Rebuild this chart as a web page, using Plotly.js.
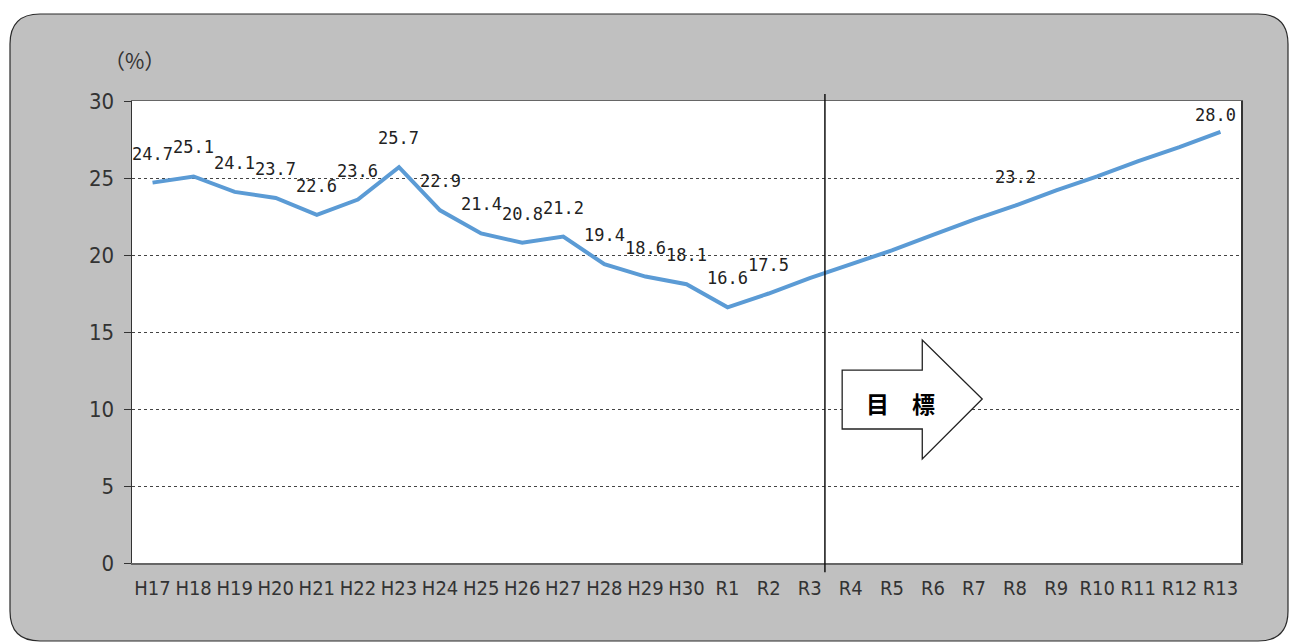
<!DOCTYPE html>
<html>
<head>
<meta charset="utf-8">
<script src="https://cdn.plot.ly/plotly-3.0.1.min.js"></script>
<style>
html,body{margin:0;padding:0;background:#ffffff;}
#chart{width:1289px;height:642px;}
</style>
</head>
<body>
<div id="chart"></div>
<script>
// ---- data ----
const categories = ["H17","H18","H19","H20","H21","H22","H23","H24","H25","H26","H27","H28","H29","H30",
  "R1","R2","R3","R4","R5","R6","R7","R8","R9","R10","R11","R12","R13"];
const values = [24.7,25.1,24.1,23.7,22.6,23.6,25.7,22.9,21.4,20.8,21.2,19.4,18.6,18.1,
  16.6,17.5,18.5,19.4,20.3,21.3,22.3,23.2,24.2,25.1,26.1,27.0,28.0];
const labeledCategories = ["H17","H18","H19","H20","H21","H22","H23","H24","H25","H26","H27","H28","H29","H30","R1","R2","R8","R13"];
const yTicks = [0,5,10,15,20,25,30];
const unitLabel = "（%）";
const targetLabel = "目　標";
const dividerAfter = "R3";

// ---- chart ----
const xFont = {family: "'DejaVu Sans Condensed','Liberation Sans Narrow','Liberation Sans',sans-serif", size: 20, color: "#333333"};
const yFont = {family: "'DejaVu Sans Condensed','Liberation Sans Narrow','Liberation Sans',sans-serif", size: 22, color: "#333333"};
const labelFont = {family: "'DejaVu Sans Mono','Liberation Mono',monospace", size: 17, color: "#222222"};

const trace = {
  type: "scatter",
  mode: "lines",
  x: categories,
  y: values,
  line: {color: "#5b9bd5", width: 4},
  hoverinfo: "x+y"
};

const annotations = [];
labeledCategories.forEach((c) => {
  const i = categories.indexOf(c);
  const last = (i === categories.length - 1);
  annotations.push({
    x: c, y: values[i], xref: "x", yref: "y",
    text: values[i].toFixed(1),
    showarrow: false,
    yshift: last ? 17 : 29,
    xshift: last ? -5 : 0,
    font: labelFont
  });
});
annotations.push({
  xref: "paper", yref: "paper", x: -0.027, y: 1.089, xanchor: "left", yanchor: "middle",
  text: unitLabel, showarrow: false,
  font: {family: "'Noto Sans CJK JP',sans-serif", size: 21, color: "#333333"}
});
const divIdx = categories.indexOf(dividerAfter) + 0.37;
annotations.push({
  xref: "x", yref: "y", x: divIdx + 1.85, y: 10.42,
  text: "<b>" + targetLabel + "</b>", showarrow: false,
  font: {family: "'Noto Sans CJK JP',sans-serif", size: 23, color: "#000000"}
});

// paper-space rounded background
const L = 132, R = 1241, T = 101, B = 563;
const px = v => (v - L) / (R - L);
const py = v => (B - v) / (B - T);
const x0 = px(10), x1 = px(1288), y1 = py(14), y0 = py(641);
const rx = 30 / (R - L), ry = 30 / (B - T);
const bgPath = `M ${x0},${y1 - ry} Q ${x0},${y1} ${x0 + rx},${y1} L ${x1 - rx},${y1} Q ${x1},${y1} ${x1},${y1 - ry} ` +
  `L ${x1},${y0 + ry} Q ${x1},${y0} ${x1 - rx},${y0} L ${x0 + rx},${y0} Q ${x0},${y0} ${x0},${y0 + ry} Z`;

const a0 = divIdx + 0.42, a1 = divIdx + 2.37, a2 = divIdx + 3.83;
const arrowPath = `M ${a0},12.53 L ${a1},12.53 L ${a1},14.48 L ${a2},10.65 L ${a1},6.75 L ${a1},8.70 L ${a0},8.70 Z`;

const shapes = [
  {type: "path", xref: "paper", yref: "paper", path: bgPath, fillcolor: "#c0c0c0",
   line: {color: "#2a2a2a", width: 1.2}, layer: "below"},
  {type: "rect", xref: "paper", yref: "paper", x0: 0, x1: 1, y0: 0, y1: 1, fillcolor: "#ffffff",
   line: {width: 0}, layer: "below"},
  {type: "line", xref: "x", yref: "paper", x0: divIdx, x1: divIdx, y0: -0.02, y1: 1.015,
   line: {color: "#111111", width: 1.5}},
  {type: "path", xref: "x", yref: "y", path: arrowPath, fillcolor: "#ffffff",
   line: {color: "#222222", width: 1.3}}
];

const layout = {
  width: 1289, height: 642,
  margin: {l: L, r: 1289 - R, t: T, b: 642 - B},
  paper_bgcolor: "#ffffff",
  plot_bgcolor: "#ffffff",
  showlegend: false,
  xaxis: {
    type: "category",
    range: [-0.5, categories.length - 0.5],
    showgrid: false,
    showline: true, linecolor: "#666666", linewidth: 1.5, mirror: true,
    ticks: "", tickangle: 0, tickfont: xFont, ticklabelstandoff: 6,
    zeroline: false, automargin: false
  },
  yaxis: {
    range: [0, 30],
    tickvals: yTicks,
    showgrid: true, gridcolor: "#444444", griddash: "dot", gridwidth: 1,
    showline: true, linecolor: "#333333", linewidth: 1.5, mirror: true,
    ticks: "outside", ticklen: 7, tickcolor: "#333333", ticklabelstandoff: 5,
    tickfont: yFont, zeroline: false, automargin: false
  },
  annotations: annotations,
  shapes: shapes
};

Plotly.newPlot("chart", [trace], layout, {displayModeBar: false, staticPlot: true});
</script>
</body>
</html>
